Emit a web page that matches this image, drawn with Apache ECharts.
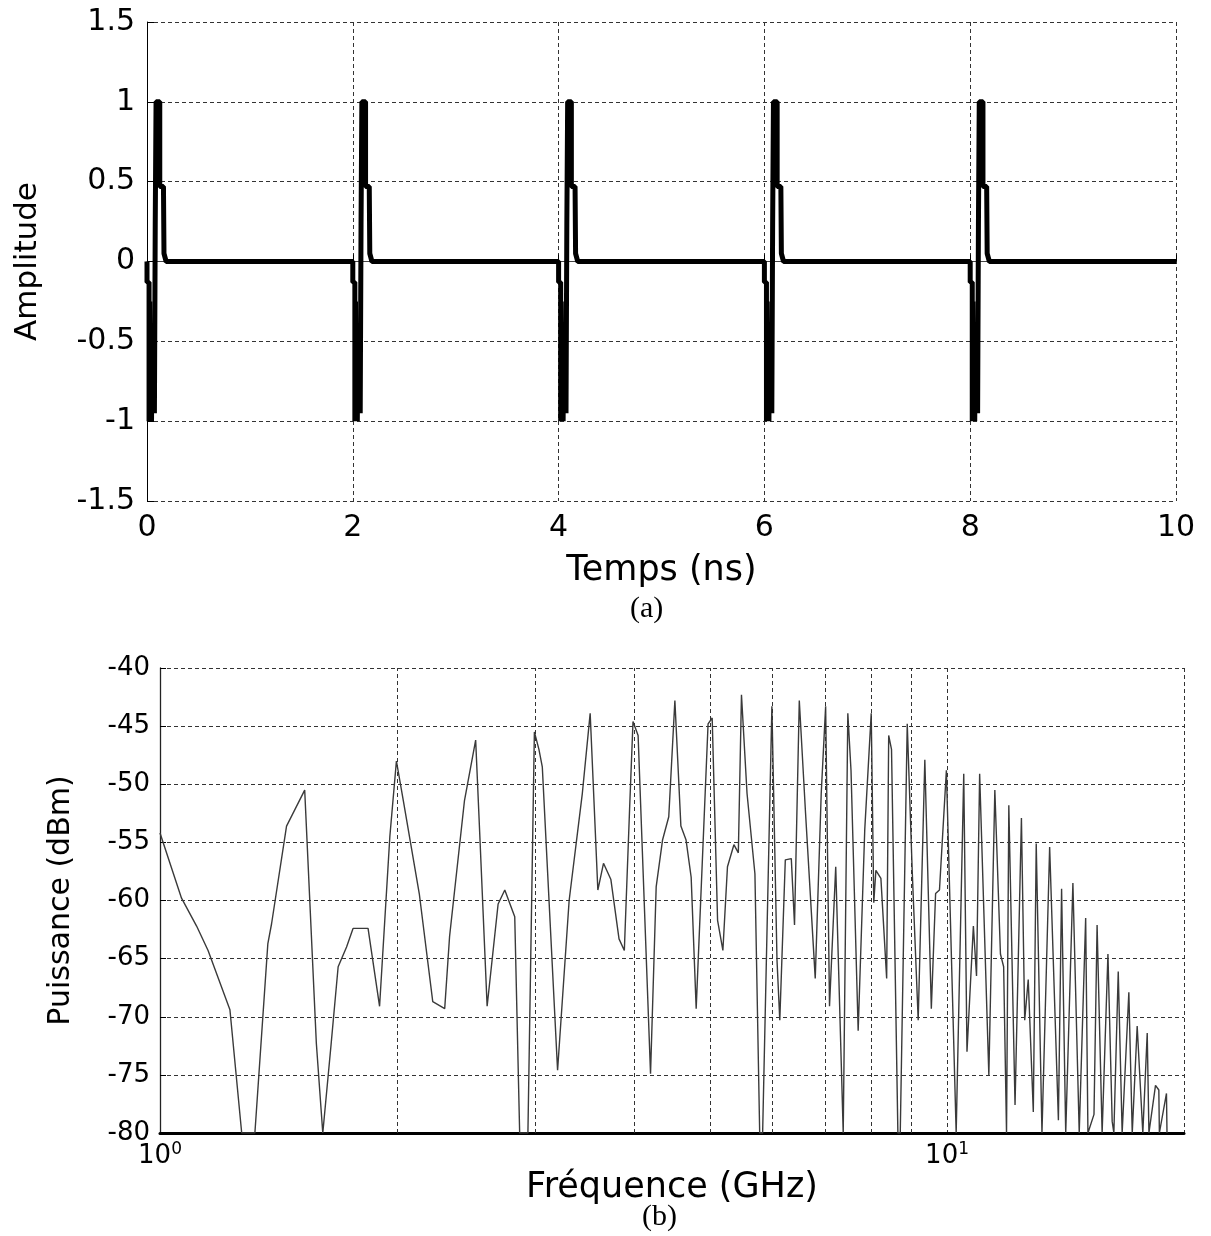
<!DOCTYPE html>
<html><head><meta charset="utf-8">
<script src="https://cdn.jsdelivr.net/npm/echarts@6/dist/echarts.min.js"></script>
<style>html,body{margin:0;padding:0;background:#fff}#c{width:1211px;height:1236px}</style>
</head><body><div id="c"></div>
<script>
// ---- (a) time-domain pulse train ----
const pulseStartsNs = [0, 2, 4, 6, 8];
const pulseOffsetsNs = [0.000, 0.000, 0.020, 0.020, 0.026, 0.026, 0.032, 0.032, 0.038, 0.038, 0.044, 0.044, 0.050, 0.050, 0.056, 0.056, 0.064, 0.064, 0.072, 0.072, 0.080, 0.080, 0.088, 0.088, 0.124, 0.124, 0.160, 0.165, 0.178, 0.186];
const pulseAmplitudes = [0.00, -0.13, -0.13, -1.00, -1.00, -0.25, -0.25, -1.00, -1.00, -0.67, -0.67, -1.00, -1.00, -0.40, -0.40, -0.95, -0.95, -0.60, -0.60, -0.95, -0.95, 0.23, 0.23, 1.00, 1.00, 0.47, 0.47, 0.05, 0.05, 0.00];
const timeEndNs = 10;

// ---- (b) power spectrum ----
const freqGHz = [1.00,1.065,1.113,1.151,1.227,1.27,1.32,1.371,1.386,1.448,1.527,1.58,1.61,1.65,1.684,1.726,1.759,1.838,1.901,1.959,1.997,
2.04,2.135,2.221,2.30,2.333,2.437,2.518,2.548,2.604,2.689,2.742,2.823,2.864,2.934,2.99,3.03,3.06,3.20,3.31,3.44,3.52,3.60,3.66,3.74,3.83,3.89,3.95,3.99,
4.05,4.20,4.27,4.35,4.43,4.51,4.59,4.66,4.73,4.80,4.89,4.97,5.03,5.11,5.19,5.26,5.36,5.43,5.48,5.57,5.70,5.78,5.83,5.99,
6.08,6.13,6.23,6.34,6.40,6.49,6.61,6.80,6.92,7.01,7.09,7.22,7.26,7.38,7.48,7.55,7.71,7.86,8.01,8.07,8.12,8.24,8.38,8.43,8.50,8.66,8.72,8.90,
9.03,9.19,9.37,9.55,9.67,9.78,9.98,10.27,10.5,10.6,10.8,10.9,11.0,11.3,11.5,11.69,11.8,11.9,11.98,12.2,12.43,12.55,12.68,12.87,12.98,13.2,
13.50,13.85,13.98,14.15,14.45,14.72,15.0,15.1,15.37,15.51,15.74,16.01,16.21,16.29,16.50,16.69,17.02,17.19,17.44,17.73,17.96,18.05,18.40,18.58,18.61,19.0,19.03];
const powerDbm = [-54.2,-59.8,-62.2,-64.3,-69.4,-80,-80,-63.7,-62.0,-53.6,-50.5,-72.3,-80,-72.3,-65.7,-64.0,-62.4,-62.4,-69.1,-54.5,-48.0,
-51.6,-59.4,-68.7,-69.3,-63.1,-51.4,-46.2,-54.2,-69.1,-60.3,-59.1,-61.4,-80,-80,-45.5,-47.0,-48.5,-74.6,-60.0,-50.8,-43.9,-59.1,-56.8,-58.2,-63.3,-64.3,-52.2,-44.6,
-45.8,-74.9,-58.8,-54.8,-52.8,-42.8,-53.6,-54.8,-58.0,-69.3,-56.2,-44.8,-44.3,-61.7,-64.3,-57.1,-55.2,-55.9,-42.3,-50.8,-57.7,-80,-80,-43.3,
-65.1,-70.3,-56.5,-56.4,-62.1,-42.8,-52.5,-66.7,-50.8,-43.3,-69.1,-57.1,-57.1,-80,-43.9,-48.8,-71.2,-53.9,-43.9,-60.2,-57.4,-58.1,-66.7,-45.8,-47.0,-80,-80,-44.8,
-57.4,-70.3,-47.9,-69.3,-59.4,-59.1,-48.8,-80,-49.1,-73.0,-62.2,-66.5,-49.1,-75.0,-50.5,-64.6,-65.7,-80,-51.8,-77.6,-52.9,-70.3,-66.8,-78.2,-55.1,-80,
-55.4,-78.9,-59.0,-80,-58.5,-80,-61.5,-80,-78.4,-62.1,-80,-64.6,-79.0,-80,-66.1,-80,-67.9,-80,-70.8,-80,-71.4,-80,-75.9,-76.3,-80,-76.6,-80];
const freqGridGHz = [2, 3, 4, 5, 6, 7, 8, 9];

// build series data from the arrays
const pulseData = [];
pulseStartsNs.forEach(t0 => {
  pulseOffsetsNs.forEach((dt, i) => pulseData.push([t0 + dt, pulseAmplitudes[i]]));
});
pulseData.push([timeEndNs, 0]);
const spectrumData = freqGHz.map((f, i) => [f, powerDbm[i]]);

const FONT = 'DejaVu Sans';
const gridDash = {type: [4, 3], color: '#333', width: 1};

const chart = echarts.init(document.getElementById('c'), null, {renderer: 'canvas'});
chart.setOption({
  backgroundColor: '#fff',
  animation: false,
  grid: [
    {left: 147, top: 22, width: 1029, height: 479},
    {left: 160, top: 668, width: 1024, height: 465}
  ],
  xAxis: [
    {
      gridIndex: 0, type: 'value', min: 0, max: 10, interval: 2,
      name: 'Temps (ns)', nameLocation: 'middle', nameGap: 52,
      nameTextStyle: {fontFamily: FONT, fontSize: 35, color: '#000'},
      axisLine: {lineStyle: {color: '#444', width: 1.2}},
      axisTick: {inside: true, length: 7, lineStyle: {color: '#000'}},
      axisLabel: {fontFamily: FONT, fontSize: 30, color: '#000', margin: 12},
      splitLine: {show: true, lineStyle: gridDash}
    },
    {
      gridIndex: 1, type: 'log', logBase: 10, min: 1, max: 20,
      name: 'Fréquence (GHz)', nameLocation: 'middle', nameGap: 28,
      nameTextStyle: {fontFamily: FONT, fontSize: 35, color: '#000'},
      axisLine: {lineStyle: {color: '#000', width: 3}},
      axisTick: {show: false},
      axisLabel: {
        fontFamily: FONT, fontSize: 26, color: '#000', margin: 8,
        formatter: v => (Math.abs(v - 1) < 1e-9 ? '10{s|0}' : (Math.abs(v - 10) < 1e-9 ? '10{s|1}' : '')),
        rich: {s: {fontFamily: FONT, fontSize: 17, color: '#000', verticalAlign: 'top', padding: [0, 0, 14, 0]}}
      },
      splitLine: {show: true, lineStyle: gridDash}
    }
  ],
  yAxis: [
    {
      gridIndex: 0, type: 'value', min: -1.5, max: 1.5, interval: 0.5,
      name: 'Amplitude', nameLocation: 'middle', nameGap: 104, nameRotate: 90,
      nameTextStyle: {fontFamily: FONT, fontSize: 31, color: '#000'},
      axisLine: {lineStyle: {color: '#000', width: 1}},
      axisTick: {inside: true, length: 7, lineStyle: {color: '#000'}},
      axisLabel: {fontFamily: FONT, fontSize: 30, color: '#000', margin: 12},
      splitLine: {show: true, lineStyle: gridDash}
    },
    {
      gridIndex: 1, type: 'value', min: -80, max: -40, interval: 5,
      name: 'Puissance (dBm)', nameLocation: 'middle', nameGap: 84, nameRotate: 90,
      nameTextStyle: {fontFamily: FONT, fontSize: 30, color: '#000'},
      axisLine: {lineStyle: {color: '#222', width: 1.3}},
      axisTick: {inside: true, length: 6, lineStyle: {color: '#000'}},
      axisLabel: {fontFamily: FONT, fontSize: 26, color: '#000', margin: 10},
      splitLine: {show: true, lineStyle: gridDash}
    }
  ],
  series: [
    {
      type: 'line', xAxisIndex: 0, yAxisIndex: 0, data: pulseData,
      showSymbol: false, symbol: 'none',
      lineStyle: {color: '#000', width: 5, join: 'bevel'},
      clip: true
    },
    {
      type: 'line', xAxisIndex: 1, yAxisIndex: 1, data: spectrumData,
      showSymbol: false, symbol: 'none',
      lineStyle: {color: '#3a3a3a', width: 1.4},
      clip: true,
      markLine: {
        silent: true, symbol: 'none', label: {show: false},
        lineStyle: {type: [4, 3], color: '#333', width: 1},
        data: freqGridGHz.map(f => ({xAxis: f}))
      }
    }
  ],
  graphic: [
    {type: 'text', left: 630, top: 594, style: {text: '(a)', font: '30px "Liberation Serif"', fill: '#000'}},
    {type: 'text', left: 642, top: 1202, style: {text: '(b)', font: '30px "Liberation Serif"', fill: '#000'}}
  ]
});
</script>
</body></html>
